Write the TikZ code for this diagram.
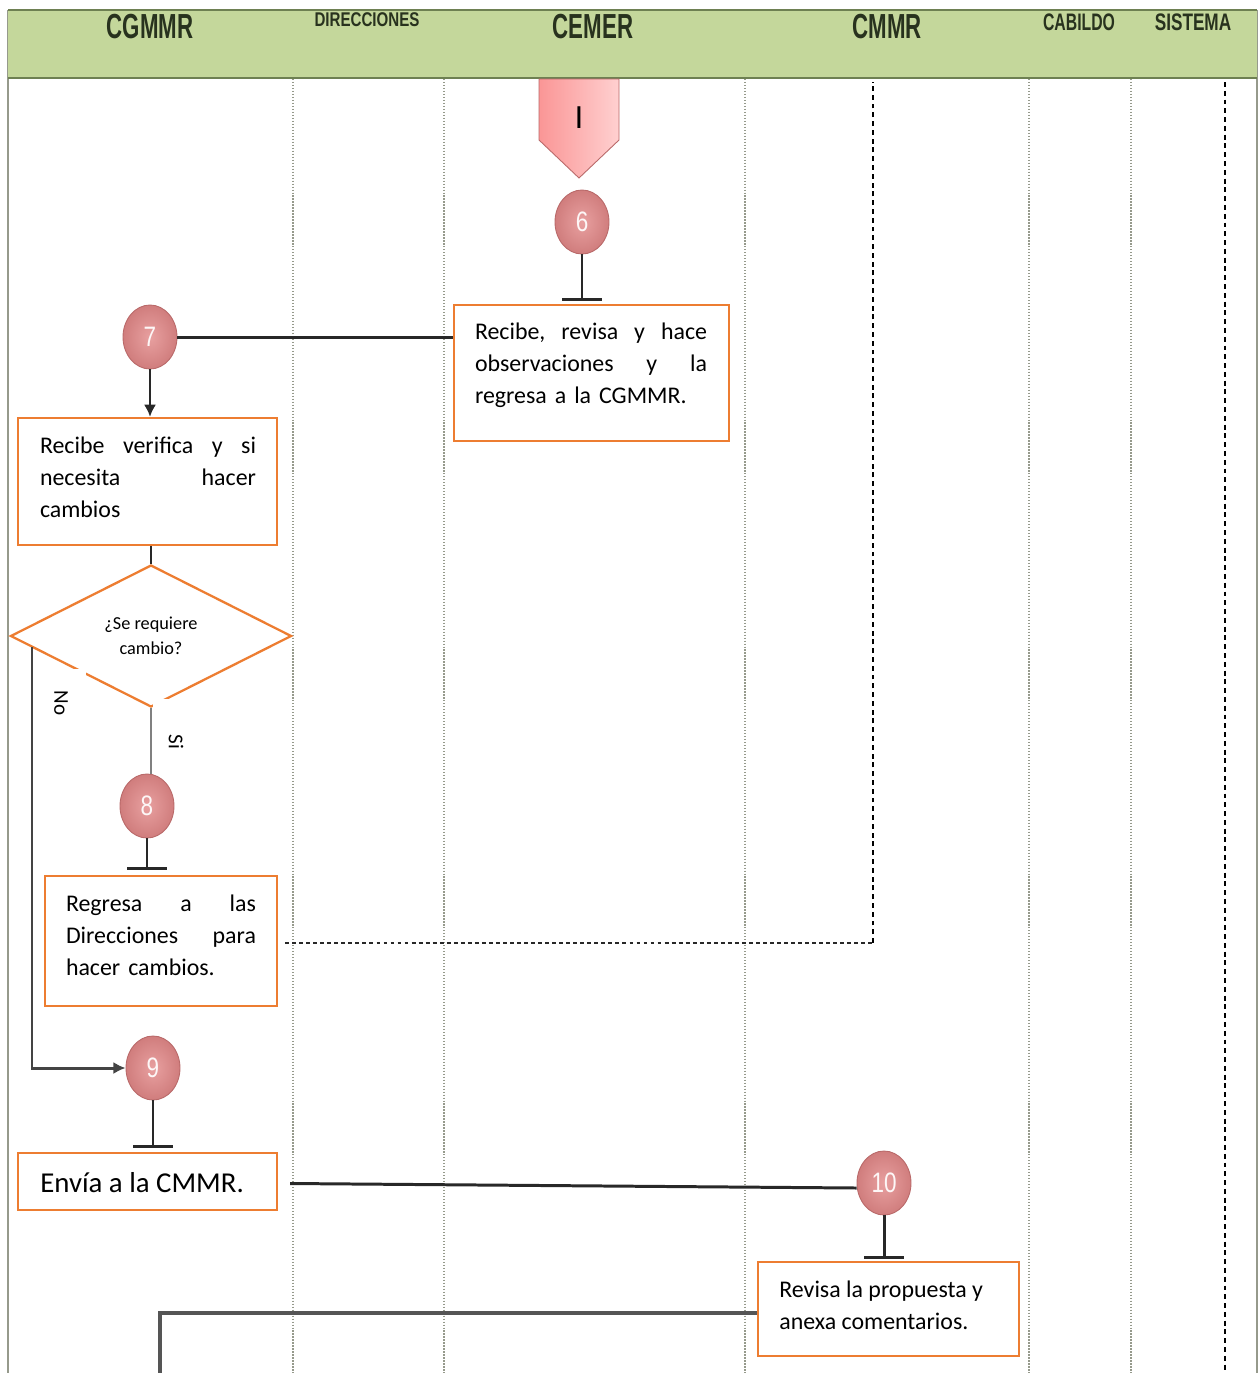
\documentclass[tikz,border=0pt]{standalone}
\usepackage{fontspec}
\setmainfont{Carlito}
\newfontfamily\hdrfont{Liberation Sans}
\usetikzlibrary{shapes.geometric,arrows.meta,calc}
\newlength{\pxl}\setlength{\pxl}{0.02cm}

\definecolor{hdrfill}{RGB}{196,215,155}
\definecolor{hdrline}{RGB}{110,128,82}
\definecolor{hdrtext}{RGB}{40,50,30}
\definecolor{boxorange}{RGB}{237,125,49}
\definecolor{lanegray}{RGB}{150,154,140}
\definecolor{stepin}{RGB}{232,160,160}
\definecolor{stepout}{RGB}{208,125,125}
\definecolor{stepline}{RGB}{185,105,105}
\definecolor{flowline}{RGB}{40,40,40}
\definecolor{exitgray}{RGB}{85,85,85}
\definecolor{pageleft}{RGB}{250,150,150}
\definecolor{pageright}{RGB}{255,208,208}

\tikzset{
  lane/.style={lanegray, line width=0.7pt, densely dotted},
  frameline/.style={lanegray, line width=1.1pt},
  owner/.style={black, line width=1.4pt, dash pattern=on 2.8pt off 2.2pt},
  dotline/.style={flowline, line width=1.6pt, dash pattern=on 2.2pt off 1.8pt},
  stepnum/.style={ellipse, minimum width=54\pxl, minimum height=64\pxl, inner sep=0pt,
    inner color=stepin, outer color=stepout, draw=stepline, line width=0.5pt,
    text=white!92!stepin, font=\hdrfont\fontsize{16pt}{16pt}\selectfont},
  actbox/.style={draw=boxorange, line width=1.3pt, fill=white, inner sep=0pt},
  acttext/.style={font=\fontsize{13.6pt}{18.1pt}\selectfont, align=left, inner sep=0pt},
  flow/.style={flowline, line width=1.7pt},
  thinflow/.style={gray, line width=0.6pt},
  noflow/.style={exitgray!80!black, line width=1.7pt},
  exitline/.style={exitgray, line width=2.2pt},
  hdr/.style={hdrtext, inner sep=0pt},
  tip/.style={-{Latex[length=7pt,width=7pt]}}
}

\begin{document}
\begin{tikzpicture}[x=0.02cm,y=-0.02cm]
\useasboundingbox (0,0) rectangle (1259,1373);
\fill[white] (0,0) rectangle (1259,1373);

% lane dividers
\foreach \lx in {293,444,745,1029,1131}
  \draw[lane] (\lx,79) -- (\lx,1373);
\draw[frameline] (8,10) -- (8,1373);
\draw[frameline] (1257,10) -- (1257,1373);

% header band
\fill[hdrfill] (8,10) rectangle (1257,78);
\draw[hdrline, line width=1.1pt] (8,10) -- (1257,10);
\draw[hdrline, line width=1.6pt] (8,78) -- (1257,78);
\node[hdr, font=\hdrfont\bfseries\fontsize{19.8pt}{20pt}\selectfont] (hcgmmr) at (150,27) {\scalebox{0.64}[1]{CGMMR}};
\node[hdr, font=\hdrfont\bfseries\fontsize{11.3pt}{12pt}\selectfont] (hdir) at (367,20) {\scalebox{0.76}[1]{DIRECCIONES}};
\node[hdr, font=\hdrfont\bfseries\fontsize{19.8pt}{20pt}\selectfont] (hcemer) at (593,27) {\scalebox{0.64}[1]{CEMER}};
\node[hdr, font=\hdrfont\bfseries\fontsize{19.8pt}{20pt}\selectfont] (hcmmr) at (887,27) {\scalebox{0.64}[1]{CMMR}};
\node[hdr, font=\hdrfont\bfseries\fontsize{13.6pt}{14pt}\selectfont] (hcab) at (1079,22) {\scalebox{0.66}[1]{CABILDO}};
\node[hdr, font=\hdrfont\bfseries\fontsize{13.6pt}{14pt}\selectfont] (hsis) at (1193,22) {\scalebox{0.72}[1]{SISTEMA}};

% responsibility lines of CMMR and SISTEMA
\coordinate (cmmrtop) at (873,82);
\coordinate (cmmrturn) at (873,943);
\draw[owner] (cmmrturn) -- (cmmrtop);
\draw[owner] (1225,82) -- (1225,1373);

% off-page connector
\draw[left color=pageleft, right color=pageright, draw=stepline, line width=0.5pt]
  (539,79) -- (619,79) -- (619,140) -- (579,178) -- (539,140) -- cycle;
\node[font=\hdrfont\fontsize{18pt}{18pt}\selectfont, inner sep=0pt] (offpage) at (579,118) {I};

% numbered steps
\node[stepnum] (c6) at (582,222) {\scalebox{0.8}[1]{6}};
\node[stepnum] (c7) at (150,337) {\scalebox{0.8}[1]{7}};
\node[stepnum] (c8) at (147,806) {\scalebox{0.8}[1]{8}};
\node[stepnum] (c9) at (153,1068) {\scalebox{0.8}[1]{9}};
\node[stepnum] (c10) at (884,1183) {\scalebox{0.8}[1]{10}};

% activity boxes
\node[actbox, minimum width=275\pxl, minimum height=136\pxl] (box1) at (591.5,373) {};
\node[acttext, text width=232\pxl] (box1t) at (591,365)
  {Recibe,\hfill revisa\hfill y\hfill hace\\observaciones\hfill y\hfill la\\regresa a la CGMMR.};
\node[actbox, minimum width=259\pxl, minimum height=127\pxl] (box2) at (147.5,481.5) {};
\node[acttext, text width=216\pxl] (box2t) at (148,477)
  {Recibe\hfill verifica\hfill y\hfill si\\necesita\hfill hacer\\cambios};
\node[actbox, minimum width=232\pxl, minimum height=130\pxl] (box3) at (161,941) {};
\node[acttext, text width=190\pxl] (box3t) at (161,935)
  {Regresa\hfill a\hfill las\\Direcciones\hfill para\\hacer cambios.};
\node[actbox, minimum width=259\pxl, minimum height=57\pxl] (box4) at (147.5,1181.5) {};
\node[acttext, font=\fontsize{16.4pt}{20pt}\selectfont, anchor=west] (box4t) at (40,1183) {Envía a la CMMR.};
\node[actbox, minimum width=261\pxl, minimum height=94\pxl] (box5) at (888.5,1309) {};
\node[acttext, anchor=west] (box5t) at (779,1305) {Revisa la propuesta y\\anexa comentarios.};

% decision
\node[diamond, aspect=2, draw=boxorange, line width=1.3pt, fill=white, inner sep=0pt,
  minimum width=281\pxl, minimum height=142\pxl, align=center,
  font=\fontsize{10.4pt}{14.2pt}\selectfont] (dec) at (151,636) {¿Se requiere\\cambio?};
\fill[white] (37,669) rectangle (86,762);
\fill[white] (153,699) rectangle (200,772);
\node[font=\fontsize{12pt}{12pt}\selectfont, rotate=-90, inner sep=0pt] (lno) at (61,703) {No};
\node[font=\fontsize{12pt}{12pt}\selectfont, rotate=-90, inner sep=0pt] (lsi) at (176,742) {Si};

% stems with cross bars
\coordinate (t6) at (582,299);
\coordinate (t8) at (147,868);
\coordinate (t9) at (153,1146);
\coordinate (t10) at (884,1257);
\foreach \c/\t in {c6/t6, c8/t8, c9/t9, c10/t10} {
  \draw[flow] (\c) -- (\t);
  \draw[flow] ([xshift=-20\pxl]\t) -- ([xshift=20\pxl]\t);
}

% connectors
\draw[flow] (c7.east) -- (c7.east -| box1.west);
\draw[flow, tip] (c7) -- (c7 |- box2.north);
\draw[flow] (dec.north |- box2.south) -- (dec.north);
\draw[thinflow] (dec.south) -- (dec.south |- c8.north);
\coordinate (nostart) at (32,647);
\draw[noflow, tip] (nostart) |- (c9.west);
\draw[dotline] ([xshift=7\pxl,yshift=-2\pxl]box3.east) -- (cmmrturn);
\draw[flow] ([xshift=12\pxl,yshift=-2\pxl]box4.east) -- ([yshift=-5\pxl]c10.west);
\coordinate (exit) at (160,1373);
\draw[exitline] ([yshift=-4\pxl]box5.west) -| (exit);
\end{tikzpicture}
\end{document}
